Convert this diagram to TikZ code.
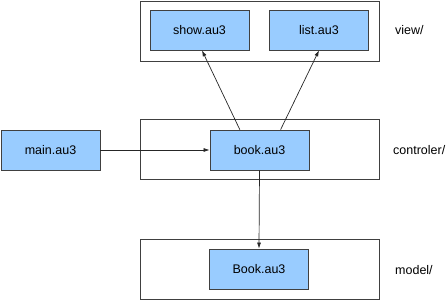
\documentclass[tikz,border=0pt]{standalone}
\usepackage{fontspec}
\setmainfont{Liberation Sans}
\usetikzlibrary{arrows.meta}
\definecolor{boxblue}{HTML}{99CCFF}
\definecolor{edge}{HTML}{404040}
\begin{document}
\begin{tikzpicture}[x=1pt,y=-1pt,
  container/.style={draw=edge,line width=0.8pt,fill=white,minimum width=239pt,minimum height=60pt,inner sep=0pt},
  filebox/.style={draw=edge,line width=0.8pt,fill=boxblue,minimum width=99pt,minimum height=40pt,inner sep=0pt,font=\fontsize{12.5}{15}\selectfont},
  dirlabel/.style={anchor=west,inner sep=0pt,font=\fontsize{12.5}{15}\selectfont},
  conn/.style={draw=black!85,line width=0.7pt,-{Latex[length=6pt,width=4pt]}}]
\useasboundingbox (0,0) rectangle (448,300);
\node[container] (viewc) at (259.5,31) {};
\node[container] (ctrlc) at (259.5,149) {};
\node[container] (modelc) at (259.5,269) {};
\node[filebox] (show) at (199.5,30) {show.au3};
\node[filebox] (list) at (319,30) {list.au3};
\node[filebox] (main) at (50.5,150) {main.au3};
\node[filebox] (book) at (259.5,150) {book.au3};
\node[filebox] (Book) at (259,269) {Book.au3};
\node[dirlabel] (lview) at (395,30) {view/};
\node[dirlabel] (lctrl) at (393,150) {controler/};
\node[dirlabel] (lmodel) at (395,270) {model/};
\draw[conn] (book.134) -- (show.-83);
\draw[conn] (book.44) -- (list.south);
\draw[conn] (main.east) -- (book.west);
\draw[conn] (book.south) -- (Book.north);
\end{tikzpicture}
\end{document}
